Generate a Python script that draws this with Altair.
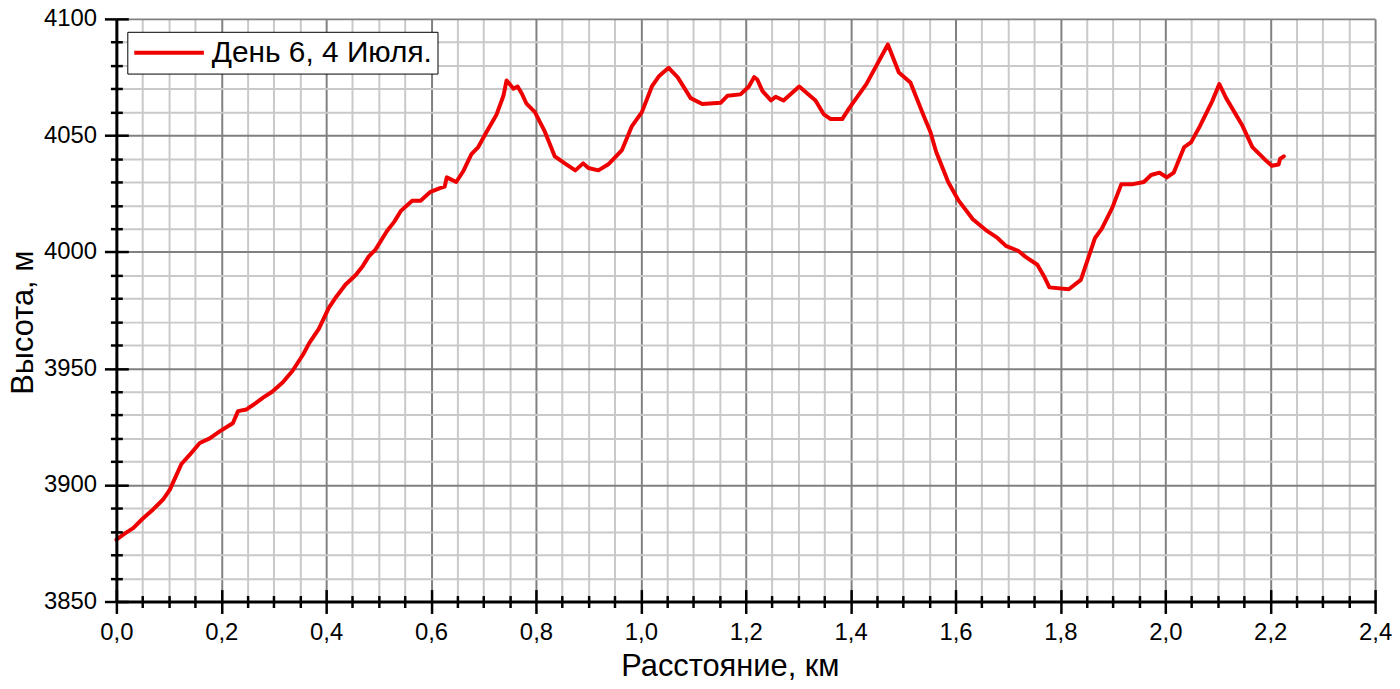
import altair as alt
import pandas as pd

# ---- data ----
dist_km = [
    0.000, 0.015, 0.032, 0.050, 0.070, 0.090, 0.102, 0.114, 0.124, 0.140,
    0.159, 0.178, 0.197, 0.215, 0.222, 0.232, 0.248, 0.265, 0.279, 0.297,
    0.317, 0.336, 0.356, 0.368, 0.386, 0.405, 0.420, 0.437, 0.456, 0.470,
    0.481, 0.494, 0.516, 0.530, 0.542, 0.564, 0.580, 0.599, 0.617, 0.626,
    0.630, 0.648, 0.661, 0.677, 0.690, 0.706, 0.725, 0.738, 0.744, 0.750,
    0.757, 0.765, 0.773, 0.782, 0.798, 0.817, 0.836, 0.855, 0.875, 0.890,
    0.900, 0.919, 0.938, 0.964, 0.983, 1.002, 1.021, 1.035, 1.053, 1.070,
    1.095, 1.117, 1.152, 1.165, 1.190, 1.206, 1.216, 1.222, 1.232, 1.248,
    1.257, 1.272, 1.302, 1.333, 1.349, 1.362, 1.384, 1.397, 1.430, 1.471,
    1.492, 1.514, 1.540, 1.552, 1.563, 1.586, 1.606, 1.633, 1.660, 1.680,
    1.696, 1.720, 1.733, 1.756, 1.770, 1.779, 1.816, 1.839, 1.866, 1.879,
    1.899, 1.916, 1.936, 1.959, 1.973, 1.989, 2.003, 2.016, 2.036, 2.049,
    2.066, 2.089, 2.103, 2.116, 2.146, 2.166, 2.193, 2.203, 2.216, 2.219,
    2.226,
]
altitude_m = [
    3876.5, 3879.0, 3881.5, 3885.5, 3889.5, 3894.0, 3898.0, 3904.0, 3909.0, 3913.0,
    3918.0, 3920.0, 3923.0, 3925.5, 3926.5, 3931.7, 3932.4, 3935.0, 3937.4, 3940.0,
    3944.0, 3949.0, 3956.0, 3961.0, 3967.0, 3976.0, 3981.0, 3986.0, 3990.0, 3994.0,
    3998.0, 4001.0, 4009.0, 4013.0, 4017.5, 4022.0, 4022.0, 4025.8, 4027.4, 4028.0,
    4032.0, 4030.0, 4034.5, 4042.0, 4045.0, 4051.6, 4059.0, 4067.0, 4073.6, 4072.0,
    4070.0, 4071.0, 4068.0, 4063.6, 4060.0, 4051.6, 4041.0, 4038.0, 4035.0, 4038.0,
    4036.0, 4035.0, 4037.6, 4043.7, 4054.0, 4060.0, 4071.0, 4075.5, 4079.0, 4075.0,
    4066.0, 4063.5, 4064.0, 4067.0, 4067.6, 4071.0, 4075.0, 4074.0, 4069.0, 4065.0,
    4066.6, 4065.0, 4071.0, 4065.0, 4059.0, 4057.0, 4057.0, 4061.6, 4072.0, 4089.0,
    4077.0, 4072.7, 4058.0, 4051.6, 4043.0, 4030.0, 4022.0, 4014.0, 4009.0, 4006.0,
    4002.6, 4000.4, 3998.0, 3994.5, 3989.0, 3984.8, 3984.0, 3988.0, 4006.0, 4010.0,
    4019.0, 4029.0, 4029.0, 4030.0, 4033.0, 4034.0, 4032.0, 4034.0, 4045.0, 4047.0,
    4054.0, 4064.5, 4072.0, 4066.0, 4054.6, 4045.0, 4039.0, 4037.0, 4037.5, 4040.0,
    4041.0,
]
series_name = "День 6, 4 Июля."

x_major = [0.0, 0.2, 0.4, 0.6, 0.8, 1.0, 1.2, 1.4, 1.6, 1.8, 2.0, 2.2, 2.4]
y_major = [3850, 3900, 3950, 4000, 4050, 4100]
x_minor = [round(i * 0.05, 2) for i in range(49) if i % 4 != 0]
y_minor = [3850 + i * 10 for i in range(26) if i % 5 != 0]

x_title = "Расстояние, км"
y_title = "Высота, м"

FONT = "Liberation Sans"
RED = "#ee0000"
W, H = 1266, 586

df = pd.DataFrame({"d": dist_km, "h": altitude_m, "s": series_name})

xs = alt.Scale(domain=[0, 2.4], nice=False, zero=False)
ys = alt.Scale(domain=[3850, 4100], nice=False, zero=False)

label_expr_x = "replace(format(datum.value, '.1f'), '.', ',')"


def grid_axis(values, color, orient):
    return alt.Axis(values=values, orient=orient, grid=True, gridColor=color,
                    gridWidth=2, domain=False, ticks=False, labels=False,
                    title=None, zindex=0)


def tick_axis(values, size, orient, offset=0):
    return alt.Axis(values=values, orient=orient, grid=False, domain=False,
                    labels=False, ticks=True, tickSize=size, tickWidth=2.5,
                    tickColor="black", offset=offset, title=None, zindex=1)


base = alt.Chart(df)


def helper(xaxis, yaxis):
    return base.mark_line(strokeOpacity=0).encode(
        x=alt.X("d:Q", scale=xs, axis=xaxis),
        y=alt.Y("h:Q", scale=ys, axis=yaxis),
    )


layers = [
    helper(grid_axis(x_minor, "#c9c9c9", "bottom"), grid_axis(y_minor, "#c9c9c9", "left")),
    helper(grid_axis(x_major, "#808080", "bottom"), grid_axis(y_major, "#808080", "left")),
    helper(tick_axis(x_minor, 6, "bottom"), tick_axis(y_minor, 6, "left")),
    helper(tick_axis(x_minor, 6, "bottom", -6), tick_axis(y_minor, 6, "left", -6)),
    helper(tick_axis(x_major, 12, "bottom", -12), tick_axis(y_major, 12, "left", -12)),
    helper(
        alt.Axis(values=x_major, orient="bottom", grid=False, domain=True,
                 domainColor="black", domainWidth=3, ticks=True, tickSize=12,
                 tickWidth=2.5, tickColor="black", labels=True,
                 labelExpr=label_expr_x, labelFont=FONT, labelFontSize=24,
                 labelColor="black", labelPadding=7, labelFlush=False,
                 labelOverlap=False, title=x_title, titleFont=FONT,
                 titleFontSize=31, titleFontWeight="normal", titleColor="black",
                 titleX=617, titleY=74, titleAlign="center",
                 titleBaseline="alphabetic", zindex=1),
        alt.Axis(values=y_major, orient="left", grid=False, domain=True,
                 domainColor="black", domainWidth=3, ticks=True, tickSize=12,
                 tickWidth=2.5, tickColor="black", labels=True, format="d",
                 labelFont=FONT, labelFontSize=24, labelColor="black",
                 labelPadding=8, labelFlush=False, labelOverlap=False,
                 title=y_title, titleFont=FONT, titleFontSize=31,
                 titleFontWeight="normal", titleColor="black",
                 titleX=-84, titleY=305, titleAlign="center",
                 titleBaseline="alphabetic", zindex=1),
    ),
]

line = base.mark_line(strokeWidth=4, strokeJoin="round", strokeCap="round").encode(
    x=alt.X("d:Q", scale=xs, axis=None),
    y=alt.Y("h:Q", scale=ys, axis=None),
    color=alt.Color(
        "s:N",
        scale=alt.Scale(domain=[series_name], range=[RED]),
        legend=alt.Legend(
            title=None, orient="none", legendX=11, legendY=13,
            fillColor="white", strokeColor="black",
            padding=5, cornerRadius=0, clipHeight=32,
            symbolType="stroke", symbolSize=4900, symbolStrokeWidth=4,
            labelFont=FONT, labelFontSize=30, labelColor="black",
            labelOffset=6, labelLimit=500,
        ),
    ),
)

chart = (
    alt.layer(*layers, line)
    .resolve_axis(x="independent", y="independent")
    .properties(
        width=W, height=H,
        autosize=alt.AutoSizeParams(type="none"),
        padding={"left": 109, "top": 9, "right": 17, "bottom": 78},
        background="white",
    )
    .configure_view(strokeWidth=0)
)

chart.save("out.html", embed_options={"renderer": "svg", "actions": False})
